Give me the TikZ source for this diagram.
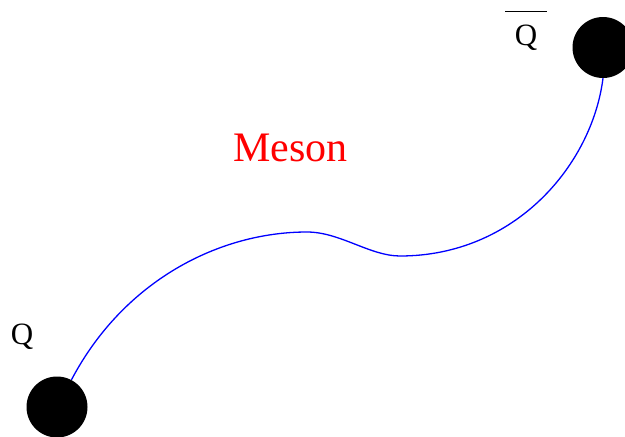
\documentclass[tikz,border=0pt]{standalone}
\usepackage{fontspec}
\setmainfont{Liberation Serif}
\usetikzlibrary{positioning}

\begin{document}
\begin{tikzpicture}[x=1pt,y=-1pt,
 quarkdot/.style={circle,fill=black,inner sep=0pt,minimum size=61pt},
 lbl/.style={inner sep=0pt,anchor=base,font=\fontsize{31}{36}\selectfont},
 string/.style={draw=blue,line width=1.3pt}]
 \useasboundingbox (0,0) rectangle (625,437);
 \node[quarkdot] (quark) at (57,407) {};
 \node[quarkdot] (antiquark) at (603,47.5) {};
 \node[lbl] (qlbl) at (22,344) {Q};
 \node[lbl] (qbarlbl) at (526,45) {Q};
 \draw[line width=1.3pt] ([shift={(-21,-13)}]qbarlbl.north) -- ([shift={(21,-13)}]qbarlbl.north);
 \node[inner sep=0pt,anchor=base,text=red,font=\fontsize{42}{50}\selectfont] (meson) at (290.5,161) {Meson};
 % flux tube
 \coordinate (peak) at (307,232);
 \coordinate (dip) at (400,256);
 \draw[string] (quark.62) .. controls (124,280) and (220,232) .. (peak)
  .. controls (340,232) and (370,256) .. (dip)
  .. controls (515,256) and (592,165) .. (antiquark.-90);
\end{tikzpicture}
\end{document}
